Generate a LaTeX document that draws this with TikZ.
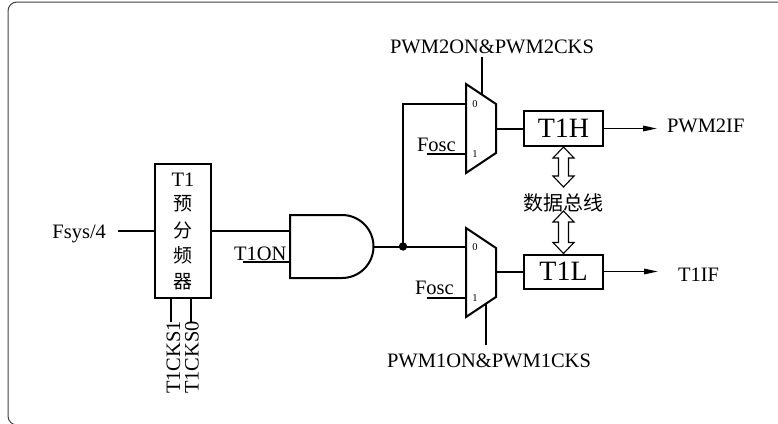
\documentclass[tikz,border=0pt]{standalone}
\usepackage{fontspec}
\setmainfont{Liberation Serif}
\newfontfamily\cjk{Noto Sans CJK SC}
\usetikzlibrary{arrows.meta}
\begin{document}
\begin{tikzpicture}[x=1pt,y=-1pt,line width=2pt,
  lbl/.style={font=\fontsize{20.5}{22}\selectfont,inner sep=0pt},
  small/.style={font=\fontsize{10.5}{12}\selectfont,inner sep=0pt},
  cjkl/.style={font=\cjk\fontsize{19}{22}\selectfont,inner sep=0pt},
  regbox/.style={draw,line width=2pt,inner sep=0pt,font=\fontsize{28}{30}\selectfont},
  wire/.style={line width=2pt},
  outarrow/.style={line width=1.6pt,-{Triangle[length=14pt,width=5.5pt]}},
  busarr/.style={line width=1.1pt,fill=white,line join=miter}]
\useasboundingbox (0,0) rectangle (778,423);
% frame
\draw[line width=1pt,black!75,rounded corners=9pt] (8,2) rectangle (820,425);

% prescaler
\node[draw,line width=2pt,minimum width=56pt,minimum height=134pt,inner sep=0pt] (pre) at (183,231) {};
\node[lbl,anchor=base] (preT) at (183,186) {T1};
\node[cjkl] (preA) at (183,203.5) {预};
\node[cjkl] (preB) at (183,230.5) {分};
\node[cjkl] (preC) at (183,255) {频};
\node[cjkl] (preD) at (183,281.5) {器};

\node[lbl,anchor=base east] (fsys) at (107,238) {Fsys/4};
\coordinate (fsysS) at (118,231);
\draw[wire] (fsysS) -- (pre.west);

% CKS lines
\coordinate (cks1a) at (171,298);
\coordinate (cks1b) at (171,322);
\coordinate (cks0a) at (191,298);
\coordinate (cks0b) at (191,322);
\draw[wire] (cks1a) -- (cks1b);
\draw[wire] (cks0a) -- (cks0b);
\node[lbl,rotate=90,anchor=east] (cks1) at (173.5,320) {T1CKS1};
\node[lbl,rotate=90,anchor=east] (cks0) at (192,320) {T1CKS0};

% AND gate
\coordinate (andIn1) at (290,231);
\coordinate (andIn2) at (290,262);
\coordinate (andOut) at (373.5,246.5);
\draw[wire,line join=miter] (342,215) -- (290,215) -- (290,278) -- (342,278) arc[start angle=90,end angle=-90,radius=31.5];
\draw[wire] (pre.east) -- (andIn1);
\node[lbl,anchor=base west] (t1on) at (233,260) {T1ON};
\coordinate (t1onS) at (243,262);
\draw[wire] (t1onS) -- (andIn2);

% junction
\coordinate (j) at (403,246.5);
\draw[wire] (andOut) -- (j);
\fill (j) circle (4.2pt);

% upper mux
\draw[wire,line join=miter] (466,84) -- (496,104) -- (496,153) -- (466,173) -- cycle;
\coordinate (m2in0) at (466,104);
\coordinate (m2in1) at (466,154);
\coordinate (m2out) at (496,128.5);
\coordinate (m2sel) at (482,94.7);
\coordinate (m2selT) at (482,57);
\node[small] (m2z) at (475,104.5) {0};
\node[small] (m2o) at (475,154.5) {1};
\draw[wire] (j) |- (m2in0);
\node[lbl,anchor=base west] (fosc2) at (416,151) {Fosc};
\coordinate (fosc2S) at (427,154);
\draw[wire] (fosc2S) -- (m2in1);
\draw[wire] (m2sel) -- (m2selT);
\node[lbl,anchor=base] (sel2) at (492,53) {PWM2ON\&PWM2CKS};

% lower mux
\draw[wire,line join=miter] (466,228) -- (496,248) -- (496,297) -- (466,317) -- cycle;
\coordinate (m1in0) at (466,246.5);
\coordinate (m1in1) at (466,298);
\coordinate (m1out) at (496,271.5);
\coordinate (m1sel) at (486,303.7);
\coordinate (m1selB) at (486,345);
\node[small] (m1z) at (475,247.5) {0};
\node[small] (m1o) at (475,298) {1};
\draw[wire] (j) -- (m1in0);
\node[lbl,anchor=base west] (fosc1) at (414,294) {Fosc};
\coordinate (fosc1S) at (427,298);
\draw[wire] (fosc1S) -- (m1in1);
\draw[wire] (m1sel) -- (m1selB);
\node[lbl,anchor=base] (sel1) at (489,367) {PWM1ON\&PWM1CKS};

% registers
\node[regbox,minimum width=79pt,minimum height=35pt] (t1h) at (563.5,128.5) {T1H};
\node[regbox,minimum width=79pt,minimum height=34pt] (t1l) at (563.5,271.5) {T1L};
\draw[wire] (m2out) -- (t1h.west);
\draw[wire] (m1out) -- (t1l.west);

\coordinate (pwm2ifS) at (657,128.5);
\coordinate (t1ifS) at (658,271.5);
\draw[outarrow] (t1h.east) -- (pwm2ifS);
\draw[outarrow] (t1l.east) -- (t1ifS);
\node[lbl,anchor=base west] (pwm2if) at (666,132) {PWM2IF};
\node[lbl,anchor=base west] (t1if) at (677,281) {T1IF};

% data bus
\node[font=\cjk\fontsize{20}{22}\selectfont,inner sep=0pt] (bus) at (563.5,203) {数据总线};
\draw[busarr] (t1h.south) -- ++(10.5,11) -- ++(-5.5,0) -- ++(0,18) -- ++(5.5,0) -- ++(-10.5,11) -- ++(-10.5,-11) -- ++(5.5,0) -- ++(0,-18) -- ++(-5.5,0) -- cycle;
\draw[busarr] (t1l.north) -- ++(10.5,-11) -- ++(-5.5,0) -- ++(0,-20.5) -- ++(5.5,0) -- ++(-10.5,-11) -- ++(-10.5,11) -- ++(5.5,0) -- ++(0,20.5) -- ++(-5.5,0) -- cycle;
\end{tikzpicture}
\end{document}
